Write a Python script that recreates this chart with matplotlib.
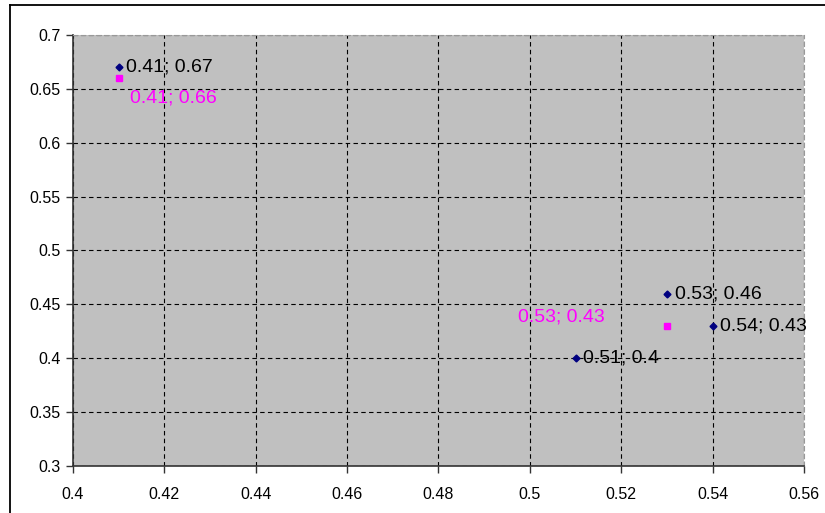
import matplotlib.pyplot as plt
from matplotlib.lines import Line2D

plt.rcParams['font.family'] = ['Liberation Sans', 'DejaVu Sans']

# series 1 (navy diamonds)
x1 = [0.41, 0.53, 0.54, 0.51]
y1 = [0.67, 0.46, 0.43, 0.40]
labels1 = ['0.41; 0.67', '0.53; 0.46', '0.54; 0.43', '0.51; 0.4']

# series 2 (magenta squares)
x2 = [0.41, 0.53]
y2 = [0.66, 0.43]
labels2 = ['0.41; 0.66', '0.53; 0.43']

fig = plt.figure(figsize=(8.25, 5.13), dpi=100)
ax = fig.add_axes([73 / 825, 47 / 513, 731 / 825, 431 / 513])
ax.set_facecolor('#c0c0c0')

ax.plot(x1, y1, linestyle='none', marker='D', markersize=3.5, color='#000080', zorder=3)
ax.plot(x2, y2, linestyle='none', marker='s', markersize=5, color='#ff00ff', zorder=3)

for x, y, t in zip(x1, y1, labels1):
    ax.annotate(t, (x, y), xytext=(5.5, 0), textcoords='offset points',
                ha='left', va='center', fontsize=14, color='black')

ax.annotate(labels2[0], (x2[0], y2[0]), xytext=(8.5, -14.5), textcoords='offset points',
            ha='left', va='center', fontsize=14, color='#ff00ff')
ax.annotate(labels2[1], (x2[1], y2[1]), xytext=(-44.5, 6.5), textcoords='offset points',
            ha='right', va='center', fontsize=14, color='#ff00ff')

ax.set_xlim(0.4, 0.56)
ax.set_ylim(0.3, 0.7)
ax.set_xticks([0.4 + 0.02 * i for i in range(9)])
ax.set_yticks([0.3 + 0.05 * i for i in range(9)])
ax.set_xticklabels(['0.4', '0.42', '0.44', '0.46', '0.48', '0.5', '0.52', '0.54', '0.56'])
ax.set_yticklabels(['0.3', '0.35', '0.4', '0.45', '0.5', '0.55', '0.6', '0.65', '0.7'])
ax.tick_params(labelsize=11.5, length=5, width=1, color='#333333', pad=4)
ax.tick_params(axis='x', pad=10)

ax.grid(True, color='black', linestyle=(0, (4, 3)), linewidth=0.8)
ax.set_axisbelow(True)

for s in ['left', 'bottom']:
    ax.spines[s].set_color('#333333')
    ax.spines[s].set_linewidth(1.2)
for s in ['top', 'right']:
    ax.spines[s].set_color('#999999')
    ax.spines[s].set_linestyle((0, (4, 3)))
    ax.spines[s].set_linewidth(0.8)

# outer chart border
fig.add_artist(Line2D([9.5 / 825, 9.5 / 825], [0, 1 - 4.5 / 513], color='black', linewidth=1.3))
fig.add_artist(Line2D([9.5 / 825, 1], [1 - 4.5 / 513, 1 - 4.5 / 513], color='black', linewidth=1.3))

fig.savefig('out.png', dpi=100)
